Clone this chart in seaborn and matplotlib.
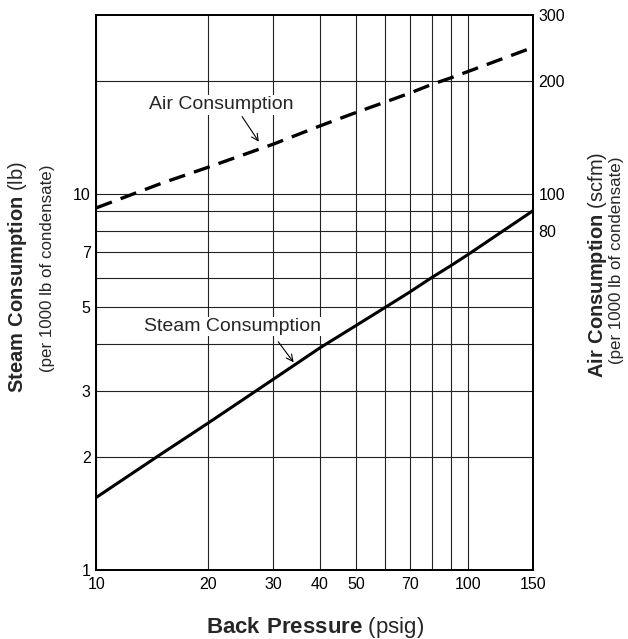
import matplotlib
matplotlib.use("Agg")
import matplotlib.pyplot as plt
import seaborn as sns
import pandas as pd
from matplotlib.ticker import FixedLocator, NullFormatter, NullLocator

# ---- data ----
pressure = [10, 15, 20, 30, 40, 50, 60, 70, 80, 90, 100, 150]          # psig
steam = [1.56, 2.04, 2.46, 3.22, 3.90, 4.47, 5.0, 5.5, 6.0, 6.45, 6.9, 9.04]   # lb / 1000 lb
air = [92, 107, 118, 136, 152, 165, 176, 186, 196, 204, 212, 246]      # scfm / 1000 lb

x_ticks = [10, 20, 30, 40, 50, 70, 100, 150]
x_minor = [60, 80, 90]
y_ticks = [1, 2, 3, 5, 7, 10]
y_minor = [4, 6, 8, 9, 20]
y2_ticks = [80, 100, 200, 300]

df = pd.DataFrame({"pressure": pressure, "steam": steam, "air": air})

sns.set_style("white")
plt.rcParams["font.family"] = ["Liberation Sans", "DejaVu Sans"]
plt.rcParams["mathtext.fontset"] = "custom"
plt.rcParams["mathtext.rm"] = "Liberation Sans"
plt.rcParams["mathtext.bf"] = "Liberation Sans:bold"

fig = plt.figure(figsize=(6.28, 6.39), dpi=100)
ax = fig.add_axes([0.1533, 0.108, 0.6954, 0.8685])
ax.set_xscale("log")
ax.set_yscale("log")

sns.lineplot(data=df, x="pressure", y="steam", ax=ax, color="black", lw=2.2)
ax.set_xlim(10, 150)
ax.set_ylim(1, 30)

ax.xaxis.set_major_locator(FixedLocator(x_ticks))
ax.set_xticklabels([str(v) for v in x_ticks])
ax.xaxis.set_minor_locator(FixedLocator(x_minor))
ax.xaxis.set_minor_formatter(NullFormatter())
ax.yaxis.set_major_locator(FixedLocator(y_ticks))
ax.set_yticklabels([str(v) for v in y_ticks])
ax.yaxis.set_minor_locator(FixedLocator(y_minor))
ax.yaxis.set_minor_formatter(NullFormatter())
ax.tick_params(which="both", length=0, labelsize=11.5, colors="black")
ax.tick_params(axis="x", pad=5)
ax.tick_params(axis="y", pad=4)
ax.grid(which="both", color="#222222", lw=0.8)
ax.set_axisbelow(True)
ax.set_xlabel("")
ax.set_ylabel("")
for s in ax.spines.values():
    s.set_color("black")
    s.set_linewidth(1.3)

ax2 = ax.twinx()
ax2.set_yscale("log")
sns.lineplot(data=df, x="pressure", y="air", ax=ax2, color="black", lw=2.4)
ax2.lines[0].set_dashes([5.0, 2.8])
ax2.set_ylim(10, 300)
ax2.set_xlim(10, 150)
ax2.yaxis.set_major_locator(FixedLocator(y2_ticks))
ax2.set_yticklabels([str(v) for v in y2_ticks])
ax2.yaxis.set_minor_locator(NullLocator())
ax2.tick_params(which="both", length=0, labelsize=11.5, pad=4, colors="black")
ax2.grid(False)
ax2.set_ylabel("")
ax2.set_xlabel("")
for s in ax2.spines.values():
    s.set_color("black")
    s.set_linewidth(1.3)

# annotations
ax.text(21.7, 17.3, "Air Consumption", ha="center", va="center", fontsize=14,
        bbox=dict(facecolor="white", edgecolor="none", pad=1), zorder=5)
ax.annotate("", xy=(27.4, 13.8), xytext=(24.7, 16.1),
            arrowprops=dict(arrowstyle="->", lw=0.8, color="black",
                            shrinkA=0, shrinkB=0, mutation_scale=12), zorder=6)
ax.text(23.3, 4.45, "Steam Consumption", ha="center", va="center", fontsize=14,
        bbox=dict(facecolor="white", edgecolor="none", pad=1), zorder=5)
ax.annotate("", xy=(34.0, 3.57), xytext=(30.9, 4.05),
            arrowprops=dict(arrowstyle="->", lw=0.8, color="black",
                            shrinkA=0, shrinkB=0, mutation_scale=12), zorder=6)

# axis titles
fig.text(0.5016, 0.0099, r"$\mathbf{Back\ Pressure}$ (psig)", ha="center",
         va="baseline", fontsize=16)
fig.text(0.0279, 0.567, r"$\mathbf{Steam\ Consumption}$ (lb)", ha="center",
         va="center", rotation=90, fontsize=14.5)
fig.text(0.0764, 0.580, "(per 1000 lb of condensate)", ha="center",
         va="center", rotation=90, fontsize=12.2)
fig.text(0.9514, 0.585, r"$\mathbf{Air\ Consumption}$ (scfm)", ha="center",
         va="center", rotation=90, fontsize=14.5)
fig.text(0.981, 0.593, "(per 1000 lb of condensate)", ha="center",
         va="center", rotation=90, fontsize=12.2)

fig.savefig("out.png", dpi=100)
